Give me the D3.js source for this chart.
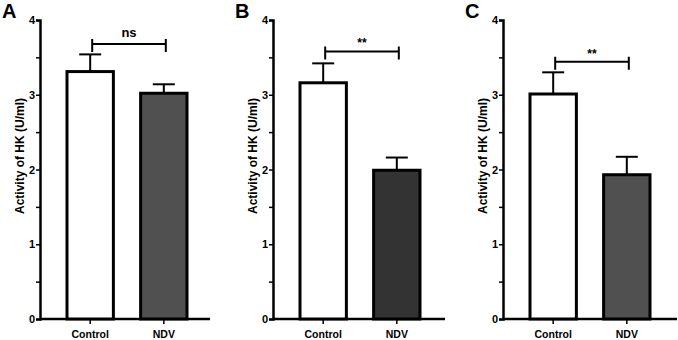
<!DOCTYPE html>
<html>
<head>
<meta charset="utf-8">
<script src="https://cdn.jsdelivr.net/npm/d3@7"></script>
<style>
  body { margin: 0; background: #fff; }
  text { font-family: "Liberation Sans", Arial, sans-serif; font-weight: bold; }
</style>
</head>
<body>
<div id="container"></div>
<script>
let w = 678;
let h = 340;

// data
let panelLabels = ["A", "B", "C"];
let categories = ["Control", "NDV"];
let means = [[3.31, 3.02], [3.16, 1.99], [3.01, 1.93]];
let errors = [[0.23, 0.12], [0.26, 0.17], [0.29, 0.24]];
let sigLabels = ["ns", "**", "**"];
let sigHeights = [3.68, 3.58, 3.44];
let yTicks = [0, 0.5, 1, 1.5, 2, 2.5, 3, 3.5, 4];
let yTitle = "Activity of HK (U/ml)";

// layout per panel
let axisX = [40, 273, 503];
let axisEnd = [210, 445, 677];
let barFills = [["#ffffff", "#505050"], ["#ffffff", "#333333"], ["#ffffff", "#505050"]];
let yTop = 20;
let yBottom = 319;

let viz = d3.select("#container")
  .append("svg")
  .attr("width", w)
  .attr("height", h)
  .style("background-color", "#fff");

panelLabels.forEach((lab, p) => {
  let g = viz.append("g");
  let x0 = axisX[p];

  let yScale = d3.scaleLinear().domain([0, 4]).range([yBottom, yTop]);
  let xScale = d3.scaleBand().domain(categories)
    .range([x0 + 27, x0 + 147]).paddingInner(0.37).paddingOuter(0);

  // panel letter
  g.append("text")
    .attr("x", x0 - 38)
    .attr("y", 18)
    .attr("font-size", "20px")
    .text(lab);

  // y axis
  let yAxis = d3.axisLeft(yScale)
    .tickValues(yTicks)
    .tickSize(4)
    .tickFormat(d => Number.isInteger(d) ? d : "");
  let yg = g.append("g").attr("transform", "translate(" + x0 + ",0)").call(yAxis);
  yg.select(".domain").attr("stroke-width", 2.5);
  yg.selectAll(".tick line").attr("stroke-width", 1.5);
  yg.selectAll(".tick text").attr("font-size", "11px").attr("font-weight", "bold")
    .attr("font-family", "Liberation Sans, Arial, sans-serif").attr("x", -5);

  // x axis
  let xg = g.append("g").attr("transform", "translate(0," + yBottom + ")")
    .call(d3.axisBottom(xScale).tickSize(5).tickSizeOuter(0));
  xg.select(".domain").attr("d", "M" + x0 + ",0H" + axisEnd[p]).attr("stroke-width", 2.5);
  xg.selectAll(".tick line").attr("stroke-width", 1.5);
  xg.selectAll(".tick text").attr("font-size", "10.5px").attr("font-weight", "bold")
    .attr("font-family", "Liberation Sans, Arial, sans-serif").attr("dy", "1.05em");

  // error bars (drawn first so bars cover the stem)
  categories.forEach((c, i) => {
    let cx = xScale(c) + xScale.bandwidth() / 2;
    let top = yScale(means[p][i] + errors[p][i]);
    g.append("line")
      .attr("x1", cx).attr("x2", cx)
      .attr("y1", top).attr("y2", yScale(means[p][i]))
      .attr("stroke", "#000").attr("stroke-width", 2);
    g.append("line")
      .attr("x1", cx - 11).attr("x2", cx + 11)
      .attr("y1", top).attr("y2", top)
      .attr("stroke", "#000").attr("stroke-width", 2);
  });

  // bars
  g.selectAll(".bar")
    .data(categories)
    .enter()
    .append("rect")
    .attr("class", "bar")
    .attr("x", d => xScale(d))
    .attr("y", (d, i) => yScale(means[p][i]))
    .attr("width", xScale.bandwidth())
    .attr("height", (d, i) => yBottom - yScale(means[p][i]))
    .attr("fill", (d, i) => barFills[p][i])
    .attr("stroke", "#000")
    .attr("stroke-width", 3);

  // significance bracket
  let sx1 = xScale(categories[0]) + xScale.bandwidth() / 2 + 2;
  let sx2 = xScale(categories[1]) + xScale.bandwidth() / 2 + 2;
  let sy = yScale(sigHeights[p]);
  g.append("path")
    .attr("d", "M" + sx1 + "," + (sy + 8) + "V" + (sy - 5) + "M" + sx1 + "," + sy + "H" + sx2 + "M" + sx2 + "," + (sy - 5) + "V" + (sy + 8))
    .attr("fill", "none").attr("stroke", "#000").attr("stroke-width", 2);
  g.append("text")
    .attr("x", (sx1 + sx2) / 2)
    .attr("y", sy - (sigLabels[p] === "ns" ? 7 : 4))
    .attr("text-anchor", "middle")
    .attr("font-size", sigLabels[p] === "ns" ? "13px" : "12px")
    .text(sigLabels[p]);

  // y title
  g.append("text")
    .attr("transform", "translate(" + (x0 - 16) + ",156) rotate(-90)")
    .attr("text-anchor", "middle")
    .attr("font-size", "12px")
    .text(yTitle);
});
</script>
</body>
</html>
